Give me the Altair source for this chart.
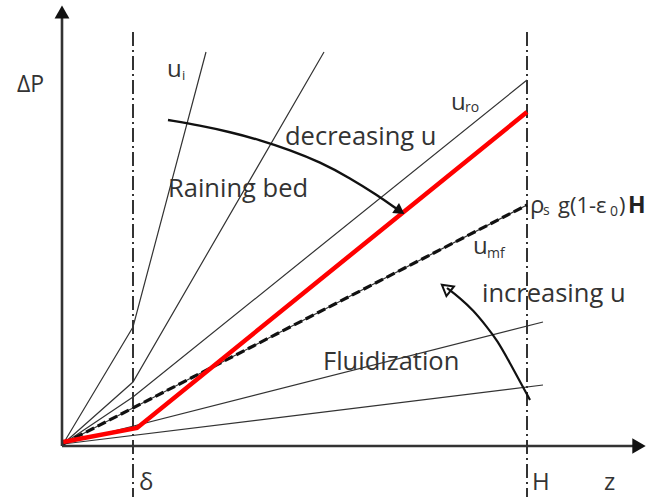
import altair as alt
import pandas as pd

# ---- data (z: horizontal distance from origin, dp: pressure drop, schematic units) ----
ui_z = [0, 70, 143];   ui_p = [0, 117, 392]
l2_z = [0, 70, 261];   l2_p = [0, 62, 392]
uro_z = [0, 70, 464];  uro_p = [0, 47, 364]
umf_z = [0, 464];      umf_p = [0, 239]
red_z = [0, 74, 464];  red_p = [2, 16, 332]
fa_z = [0, 480];       fa_p = [0, 122]
fb_z = [0, 480];       fb_p = [0, 59]

delta_z = 70
H_z = 464
marker_top = 412
marker_bottom = -53

dec_z = [105, 137, 167, 197, 227, 257, 287, 314, 334]
dec_p = [324, 318.5, 312, 304, 294, 282, 266, 249, 235]
inc_z = [467, 460, 447, 434, 424, 410, 397, 384]
inc_p = [44, 57, 81, 104, 117, 134, 146, 156]

labels = ["ΔP", "u", "i", "Raining bed", "decreasing u", "u", "ro",
          "ρ", "s", "g(1-ε", "0", ")", "u", "mf", "increasing u",
          "Fluidization", "δ", "H", "z"]
label_z = [-46, 104, 119, 105, 222, 388, 402, 467, 480, 495, 547, 556, 410, 424,
           419, 260, 76, 469, 541]
label_p = [352, 367, 364, 247, 299, 334, 332, 231, 229, 231, 228, 231, 190, 186,
           142, 74, -46, -46, -46]
label_size = [23, 24, 13, 25.5, 25.5, 24, 14, 24, 14, 22, 14, 22, 24, 14,
              25.5, 25.5, 24, 24, 24]

bold_label = ["H"]
bold_z = [565]
bold_p = [231]

# ---- build tables ----
def series(name, zs, ps):
    return pd.DataFrame({"series": name, "i": range(len(zs)), "z": zs, "p": ps})

thin = pd.concat([series("ui", ui_z, ui_p), series("l2", l2_z, l2_p),
                  series("uro", uro_z, uro_p), series("umf", umf_z, umf_p),
                  series("fa", fa_z, fa_p), series("fb", fb_z, fb_p)])
red = series("red", red_z, red_p)
dashed = series("umf", umf_z, umf_p)
markers = pd.concat([series("delta", [delta_z, delta_z], [marker_top, marker_bottom]),
                     series("H", [H_z, H_z], [marker_top, marker_bottom])])
axes = pd.concat([series("xaxis", [-1, 576], [-2, -2]),
                  series("yaxis", [-1, -1], [-2, 431])])
dec = series("dec", dec_z, dec_p)
inc = series("inc", inc_z, inc_p)
texts = pd.DataFrame({"label": labels, "z": label_z, "p": label_p, "size": label_size})
btexts = pd.DataFrame({"label": bold_label, "z": bold_z, "p": bold_p})

xs = alt.Scale(domain=[-63, 600], nice=False, zero=False)
ys = alt.Scale(domain=[-53, 444], nice=False, zero=False)
X = alt.X("z:Q", scale=xs, axis=None)
Y = alt.Y("p:Q", scale=ys, axis=None)

def lines(df, **kw):
    return alt.Chart(df).mark_line(**kw).encode(x=X, y=Y, detail="series:N", order="i:Q")

thin_l = lines(thin, color="#333333", strokeWidth=1.2)
dash_l = lines(dashed, color="#111111", strokeWidth=3.2, strokeDash=[9, 4])
red_l = lines(red, color="#ff0000", strokeWidth=4.5, strokeJoin="miter")
mark_l = lines(markers, color="#333333", strokeWidth=2, strokeDash=[14, 4, 2, 4])
axis_l = lines(axes, color="#333333", strokeWidth=2.6)
dec_l = lines(dec, color="#111111", strokeWidth=2.4, interpolate="basis")
inc_l = lines(inc, color="#111111", strokeWidth=2.2, interpolate="basis")

heads = pd.DataFrame({"z": [-1, 576, 337, 383], "p": [432, -2, 233, 156],
                      "kind": ["up", "right", "dec", "inc"]})
yhead = alt.Chart(heads[heads.kind == "up"]).mark_point(
    shape="triangle-up", size=220, filled=True, color="#111111", opacity=1).encode(x=X, y=Y)
xhead = alt.Chart(heads[heads.kind == "right"]).mark_point(
    shape="triangle-right", size=240, filled=True, color="#111111", opacity=1).encode(x=X, y=Y)
dhead = alt.Chart(heads[heads.kind == "dec"]).mark_point(
    shape="triangle-right", size=150, angle=34, filled=True, color="#111111", opacity=1).encode(x=X, y=Y)
ihead = alt.Chart(heads[heads.kind == "inc"]).mark_point(
    shape="triangle-right", size=150, angle=218, filled=False, color="#111111",
    strokeWidth=2, opacity=1).encode(x=X, y=Y)

txt = alt.Chart(texts).mark_text(font="Open Sans", align="left", baseline="alphabetic",
                                 color="#333333").encode(
    x=X, y=Y, text="label:N", size=alt.Size("size:Q", scale=None, legend=None))
btxt = alt.Chart(btexts).mark_text(font="Open Sans", align="left", baseline="alphabetic",
                                   color="#222222", fontWeight="bold", fontSize=23).encode(
    x=X, y=Y, text="label:N")

chart = alt.layer(thin_l, mark_l, dash_l, red_l, axis_l, yhead, xhead,
                  dec_l, dhead, inc_l, ihead, txt, btxt).properties(
    width=663, height=497, padding=0,
    autosize=alt.AutoSizeParams(type="none")
).configure_view(stroke=None)

chart.save("out.html", embed_options={"renderer": "svg", "actions": False})
